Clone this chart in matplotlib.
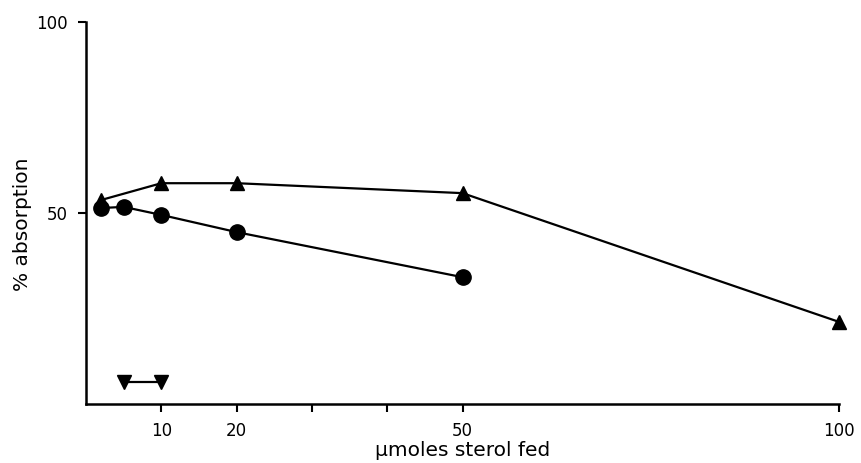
import matplotlib
matplotlib.use("Agg")
import matplotlib.pyplot as plt

# data
tri_x = [2, 10, 20, 50, 100]
tri_y = [53.4, 57.8, 57.8, 55.2, 21.5]
circ_x = [2, 5, 10, 20, 50]
circ_y = [51.3, 51.6, 49.5, 45.0, 33.2]
down_x = [5, 10]
down_y = [5.8, 5.8]

xticks = [10, 20, 30, 40, 50, 100]
xticklabels = ["10", "20", "", "", "50", "100"]
yticks = [50, 100]
yticklabels = ["50", "100"]

plt.rcParams['font.family'] = ['DejaVu Sans']

fig = plt.figure(figsize=(8.62, 4.63), dpi=100)
ax = fig.add_axes([0.0998, 0.1274, 0.8735, 0.8251])

ax.plot(tri_x, tri_y, color='black', lw=1.6, marker='^', ms=10, clip_on=False)
ax.plot(circ_x, circ_y, color='black', lw=1.6, marker='o', ms=11, clip_on=False)
ax.plot(down_x, down_y, color='black', lw=1.6, marker='v', ms=10, clip_on=False)

ax.set_xlim(0, 100)
ax.set_ylim(0, 100)
ax.set_xticks(xticks)
ax.set_xticklabels(xticklabels)
ax.set_yticks(yticks)
ax.set_yticklabels(yticklabels)

for s in ['top', 'right']:
    ax.spines[s].set_visible(False)
for s in ['left', 'bottom']:
    ax.spines[s].set_linewidth(1.8)

ax.tick_params(axis='both', direction='out', length=6, width=1.5, labelsize=12, pad=7)
ax.set_ylabel("% absorption", fontsize=14.5)
ax.yaxis.set_label_coords(-0.072, 0.47)
ax.set_xlabel("\u03bcmoles sterol fed", fontsize=14.5, labelpad=1)

fig.savefig("out.png", dpi=100)
